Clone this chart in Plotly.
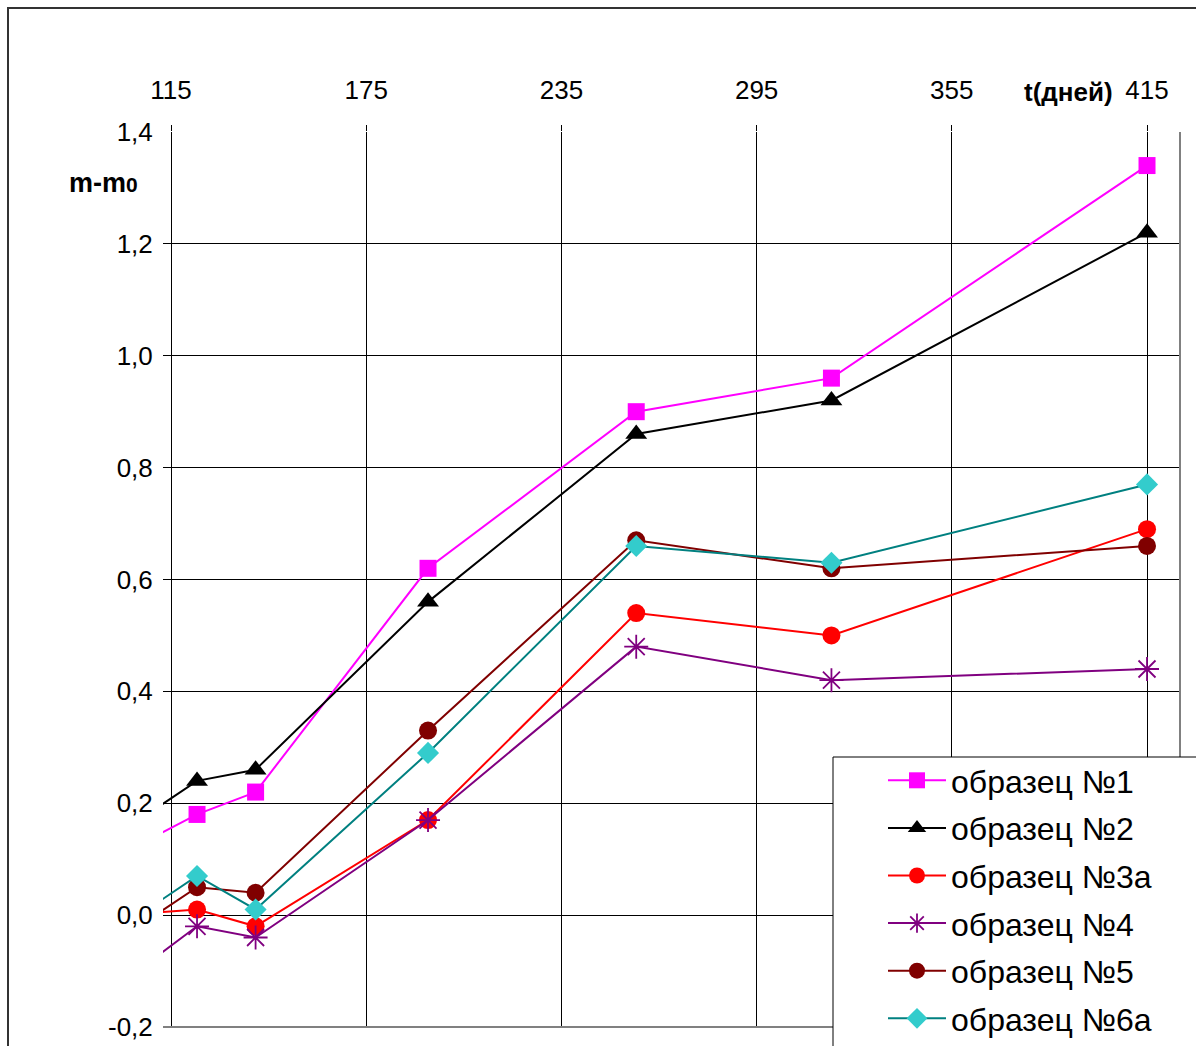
import plotly.graph_objects as go

# Days of measurement
days = [100, 123, 141, 194, 258, 318, 415]

# Mass change m-m0 for each sample
sample1 = [0.11, 0.18, 0.22, 0.62, 0.90, 0.96, 1.34]
sample2 = [0.15, 0.24, 0.26, 0.56, 0.86, 0.92, 1.22]
sample3a = [0.00, 0.01, -0.02, 0.17, 0.54, 0.50, 0.69]
sample4 = [-0.12, -0.02, -0.04, 0.17, 0.48, 0.42, 0.44]
sample5 = [-0.04, 0.05, 0.04, 0.33, 0.67, 0.62, 0.66]
sample6a = [-0.02, 0.07, 0.01, 0.29, 0.66, 0.63, 0.77]

x_ticks = [115, 175, 235, 295, 355, 415]
y_ticks = [-0.2, 0.0, 0.2, 0.4, 0.6, 0.8, 1.0, 1.2, 1.4]
y_ticktext = [f"{v:.1f}".replace(".", ",") for v in y_ticks]

FONT = "Liberation Sans, Arial, sans-serif"

series = [
    ("образец №1", sample1, "#FF00FF", dict(symbol="square", size=17, color="#FF00FF")),
    ("образец №2", sample2, "#000000", dict(symbol="triangle-up", size=19, color="#000000")),
    ("образец №3а", sample3a, "#FF0000", dict(symbol="circle", size=18, color="#FF0000")),
    ("образец №4", sample4, "#800080", dict(symbol="asterisk-open", size=20, color="#800080",
                                          line=dict(color="#800080", width=1.8))),
    ("образец №5", sample5, "#800000", dict(symbol="circle", size=18, color="#800000")),
    ("образец №6а", sample6a, "#008080", dict(symbol="diamond", size=17, color="#33CCCC")),
]

fig = go.Figure()
for i, (name, vals, col, mk) in enumerate(series):
    fig.add_trace(go.Scatter(
        x=days, y=vals, name=name, mode="lines+markers",
        line=dict(color=col, width=2), marker=mk,
        legendgroup=f"g{i}", cliponaxis=True,
    ))

legend_left = (833 - 163) / 1017
legend_top = (1027 - 757) / 895

fig.update_layout(
    width=1196, height=1046,
    margin=dict(l=163, r=16, t=132, b=19, autoexpand=False),
    paper_bgcolor="white", plot_bgcolor="white",
    font=dict(family=FONT, color="black", size=26),
    showlegend=True,
    legend=dict(
        x=legend_left, y=(1027 - 753) / 895,
        xanchor="left", yanchor="top",
        bgcolor="rgba(0,0,0,0)", borderwidth=0,
        font=dict(family=FONT, size=32, color="black"),
        itemwidth=58, indentation=50, tracegroupgap=3,
    ),
    xaxis=dict(
        side="top", range=[112.54, 425.14], tickvals=x_ticks,
        showgrid=True, gridcolor="black", gridwidth=1,
        ticks="outside", ticklen=6, tickcolor="black",
        showline=False, zeroline=False,
        tickfont=dict(size=26, family=FONT), ticklabelstandoff=16,
    ),
    yaxis=dict(
        range=[-0.2, 1.4], tickvals=y_ticks, ticktext=y_ticktext,
        showgrid=True, gridcolor="black", gridwidth=1,
        ticks="outside", ticklen=4, tickcolor="rgba(0,0,0,0)",
        showline=False, zeroline=False,
        tickfont=dict(size=26, family=FONT),
    ),
    annotations=[
        dict(text="<b>m-m<span style='font-size:21px'>0</span></b>",
             xref="paper", yref="paper", x=(103 - 163) / 1017, y=(1027 - 183) / 895,
             xanchor="center", yanchor="middle", showarrow=False,
             font=dict(size=27, family=FONT)),
        dict(text="<b>t(дней)</b>",
             xref="paper", yref="paper", x=(1068 - 163) / 1017, y=(1027 - 92) / 895,
             xanchor="center", yanchor="middle", showarrow=False,
             font=dict(size=26, family=FONT)),
    ],
    shapes=[
        # plot area border on the right and bottom
        dict(type="line", xref="paper", yref="paper", x0=1, x1=1, y0=0, y1=1,
             line=dict(color="#808080", width=2)),
        dict(type="line", xref="paper", yref="paper", x0=0, x1=1, y0=0, y1=0,
             line=dict(color="#808080", width=2)),
        # outer chart frame
        dict(type="rect", xref="paper", yref="paper",
             x0=(8 - 163) / 1017, x1=1.2, y0=-0.2, y1=(1027 - 8) / 895,
             line=dict(color="#333333", width=2), layer="below"),
        # legend box
        dict(type="rect", xref="paper", yref="paper",
             x0=legend_left, x1=1.2, y0=-0.2, y1=legend_top,
             fillcolor="white", line=dict(color="black", width=1), layer="above"),
    ],
)

fig.write_html("out.html")
